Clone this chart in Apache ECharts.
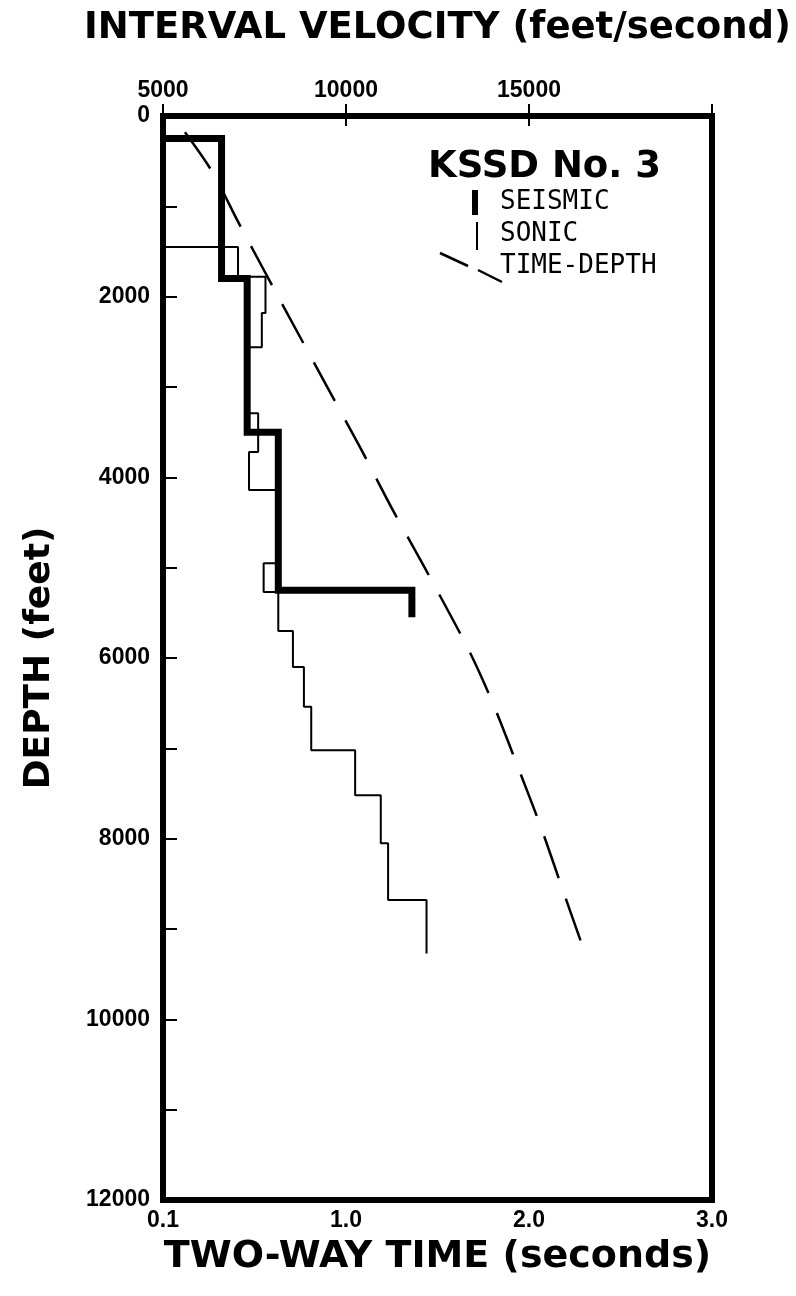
<!DOCTYPE html>
<html>
<head>
<meta charset="utf-8">
<script src="https://cdn.jsdelivr.net/npm/echarts@6/dist/echarts.min.js"></script>
<style>
html,body{margin:0;padding:0;background:#fff;}
#main{width:796px;height:1296px;}
</style>
</head>
<body>
<div id="main"></div>
<script>
// seismic interval velocity (thick steps): depth breaks and velocity in each interval
var seismicDepths = [250, 1800, 3500, 5250, 5550];
var seismicVels = [6600, 7300, 8150, 11800];

// sonic log interval velocity (thin steps)
var sonicDepths = [1450, 1780, 2180, 2560, 3290, 3720, 4140, 4950, 5270, 5700, 6100, 6540, 7020, 7520, 8050, 8680, 9270];
var sonicVels = [7050, 7800, 7700, 7350, 7600, 7350, 8150, 7750, 8150, 8550, 8850, 9050, 10250, 10950, 11150, 12200];

// time-depth curve (dashed)
var tdTimes = [0.12, 0.27, 0.41, 0.64, 0.90, 1.08, 1.25, 1.43, 1.67, 1.80, 1.94, 2.07, 2.19, 2.31];
var tdDepths = [180, 620, 1170, 2040, 3010, 3680, 4340, 5000, 5910, 6490, 7210, 7900, 8600, 9290];

var velTicks = ['5000', '10000', '15000'];
var timeTicks = ['0.1', '1.0', '2.0', '3.0'];

function stepPoints(depths, vels, startVel)
{
	var pts = [[startVel, depths[0]]];
	for(var i=0;i<vels.length;i++)
	{
		pts.push([vels[i], depths[i]]);
		pts.push([vels[i], depths[i+1]]);
	}
	return pts;
}

var tdData = [];
for(var i=0;i<tdTimes.length;i++)
{
	tdData.push([tdTimes[i], tdDepths[i]]);
}

var tickFont = {color:'#000', fontFamily:'Liberation Sans', fontWeight:'bold', fontSize:23};
var nameFont = {color:'#000', fontFamily:'DejaVu Sans', fontWeight:'bold', fontSize:38};

var option = {
	animation: false,
	grid: {left:163, top:116, right:84, bottom:96, outerBoundsMode:'none', containLabel:false,
		show:true, borderColor:'#000', borderWidth:6, backgroundColor:'#fff'},
	xAxis: [
		{
			type:'value', position:'bottom', min:0, max:3, interval:1,
			name:'TWO-WAY TIME (seconds)', nameLocation:'middle', nameGap:38, nameTextStyle:nameFont,
			axisLine:{show:false}, splitLine:{show:false},
			axisTick:{show:true, inside:true, length:12, lineStyle:{color:'#000', width:2}},
			axisLabel:Object.assign({margin:9, formatter:function(v){ return timeTicks[Math.round(v)]; }}, tickFont)
		},
		{
			type:'value', position:'top', min:5000, max:20000, interval:5000,
			name:'INTERVAL VELOCITY (feet/second)', nameLocation:'middle', nameGap:69,
			nameTextStyle:{color:'#000', fontFamily:'DejaVu Sans', fontWeight:'bold', fontSize:37},
			axisLine:{show:false}, splitLine:{show:false},
			axisTick:{show:true, inside:true, length:10, lineStyle:{color:'#000', width:2}},
			axisLabel:Object.assign({margin:14, formatter:function(v){ return velTicks[(v-5000)/5000] || ''; }}, tickFont)
		}
	],
	yAxis: {
		type:'value', inverse:true, min:0, max:12000, interval:1000,
		name:'DEPTH (feet)', nameLocation:'middle', nameGap:105,
		nameTextStyle:{color:'#000', fontFamily:'DejaVu Sans', fontWeight:'bold', fontSize:36},
		axisLine:{show:false}, splitLine:{show:false},
		axisTick:{show:true, inside:true, length:14, lineStyle:{color:'#000', width:2}},
		axisLabel:Object.assign({margin:13, formatter:function(v){ return (v % 2000 === 0) ? String(v) : ''; }}, tickFont)
	},
	series: [
		{
			name:'SONIC', type:'line', xAxisIndex:1, yAxisIndex:0,
			data: stepPoints(sonicDepths, sonicVels, 5000),
			showSymbol:false, lineStyle:{color:'#000', width:2}
		},
		{
			name:'SEISMIC', type:'line', xAxisIndex:1, yAxisIndex:0,
			data: stepPoints(seismicDepths, seismicVels, 5000),
			showSymbol:false, lineStyle:{color:'#000', width:7, join:'miter', cap:'butt'}
		},
		{
			name:'TIME-DEPTH', type:'line', xAxisIndex:0, yAxisIndex:0,
			data: tdData, smooth:0.3,
			showSymbol:false, lineStyle:{color:'#000', width:2.5, type:[44, 22]}
		}
	],
	graphic: [
		{type:'text', left:428, top:149, style:{text:'KSSD No. 3', fill:'#000', font:'bold 37px "DejaVu Sans"'}},
		{type:'line', shape:{x1:475, y1:190, x2:475, y2:215}, style:{stroke:'#000', lineWidth:6}},
		{type:'line', shape:{x1:477, y1:222, x2:477, y2:250}, style:{stroke:'#000', lineWidth:2}},
		{type:'line', shape:{x1:440, y1:253, x2:468, y2:266}, style:{stroke:'#000', lineWidth:2.5}},
		{type:'line', shape:{x1:478, y1:270, x2:502, y2:282}, style:{stroke:'#000', lineWidth:2.5}},
		{type:'text', left:500, top:189, style:{text:'SEISMIC', fill:'#000', font:'26px "DejaVu Sans Mono"'}},
		{type:'text', left:500, top:221, style:{text:'SONIC', fill:'#000', font:'26px "DejaVu Sans Mono"'}},
		{type:'text', left:500, top:253, style:{text:'TIME-DEPTH', fill:'#000', font:'26px "DejaVu Sans Mono"'}}
	]
};

var myChart = echarts.init(document.getElementById('main'));
myChart.setOption(option);
window.addEventListener("resize",function(){
	myChart.resize();
});
</script>
</body>
</html>
